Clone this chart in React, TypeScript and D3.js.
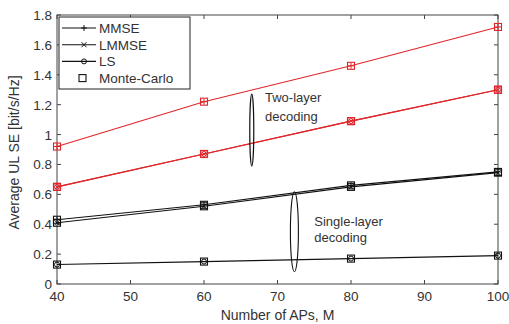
import { useEffect, useRef } from 'react';
import * as d3 from 'd3';

const apCounts = [40, 60, 80, 100];
const xTicks = [40, 50, 60, 70, 80, 90, 100];
const yTicks = [0, 0.2, 0.4, 0.6, 0.8, 1, 1.2, 1.4, 1.6, 1.8];

// two-layer decoding (red)
const twoMMSE = [0.92, 1.22, 1.46, 1.72];
const twoLMMSE = [0.65, 0.87, 1.09, 1.30];
const twoLS = [0.65, 0.87, 1.09, 1.30];
// single-layer decoding (black)
const oneMMSE = [0.43, 0.53, 0.66, 0.75];
const oneLMMSE = [0.41, 0.52, 0.65, 0.745];
const oneLS = [0.13, 0.15, 0.17, 0.19];

const legendItems = ['MMSE', 'LMMSE', 'LS', 'Monte-Carlo'];

type Mark = 'plus' | 'cross' | 'circle';

export default function App() {
  const svgRef = useRef<SVGSVGElement>(null);

  useEffect(() => {
    const svg = d3.select(svgRef.current);
    svg.selectAll('*').remove();

    const W = 509, H = 324;
    const margin = { top: 15, right: 11, bottom: 40, left: 57 };
    const width = W - margin.left - margin.right;
    const height = H - margin.top - margin.bottom;
    const font = '"Liberation Sans", Arial, sans-serif';
    const axisCol = '#444';
    const textCol = '#333';
    const red = '#e0262b';

    const g = svg.append('g').attr('transform', `translate(${margin.left},${margin.top})`);

    const x = d3.scaleLinear().domain([40, 100]).range([0, width]);
    const y = d3.scaleLinear().domain([0, 1.8]).range([height, 0]);

    // ── box + inward ticks ─────────────────────────────
    g.append('rect').attr('width', width).attr('height', height)
      .attr('fill', 'none').attr('stroke', axisCol).attr('stroke-width', 1);

    xTicks.forEach(t => {
      g.append('line').attr('x1', x(t)).attr('x2', x(t)).attr('y1', height).attr('y2', height - 4)
        .attr('stroke', axisCol);
      g.append('line').attr('x1', x(t)).attr('x2', x(t)).attr('y1', 0).attr('y2', 4)
        .attr('stroke', axisCol);
      g.append('text').attr('x', x(t)).attr('y', height + 17).attr('text-anchor', 'middle')
        .attr('font-family', font).attr('font-size', 13.5).attr('fill', textCol).text(String(t));
    });
    yTicks.forEach(t => {
      g.append('line').attr('x1', 0).attr('x2', 4).attr('y1', y(t)).attr('y2', y(t)).attr('stroke', axisCol);
      g.append('line').attr('x1', width).attr('x2', width - 4).attr('y1', y(t)).attr('y2', y(t)).attr('stroke', axisCol);
      g.append('text').attr('x', -5).attr('y', y(t) + 5).attr('text-anchor', 'end')
        .attr('font-family', font).attr('font-size', 13.5).attr('fill', textCol).text(d3.format('~g')(t));
    });

    // axis labels
    svg.append('text').attr('x', margin.left + width / 2).attr('y', 320).attr('text-anchor', 'middle')
      .attr('font-family', font).attr('font-size', 14).attr('fill', textCol).text('Number of APs, M');
    svg.append('text').attr('transform', `translate(19,${margin.top + height / 2 + 3}) rotate(-90)`)
      .attr('text-anchor', 'middle').attr('font-family', font).attr('font-size', 14).attr('fill', textCol)
      .text('Average UL SE [bit/s/Hz]');

    // ── markers ─────────────────────────────────────────
    const drawMark = (p: d3.Selection<SVGGElement, unknown, null, undefined>, cx: number, cy: number, m: Mark, col: string) => {
      if (m === 'plus') {
        p.append('path').attr('d', `M${cx - 3},${cy}H${cx + 3}M${cx},${cy - 3}V${cy + 3}`).attr('stroke', col).attr('stroke-width', 1);
      } else if (m === 'cross') {
        p.append('path').attr('d', `M${cx - 2.5},${cy - 2.5}L${cx + 2.5},${cy + 2.5}M${cx - 2.5},${cy + 2.5}L${cx + 2.5},${cy - 2.5}`)
          .attr('stroke', col).attr('stroke-width', 1);
      } else {
        p.append('circle').attr('cx', cx).attr('cy', cy).attr('r', 2.5).attr('fill', 'none').attr('stroke', col);
      }
    };

    const line = d3.line<number>().x((_, i) => x(apCounts[i])).y(d => y(d));

    const series: { vals: number[]; col: string; mark: Mark }[] = [
      { vals: oneLS, col: '#111', mark: 'circle' },
      { vals: oneLMMSE, col: '#111', mark: 'cross' },
      { vals: oneMMSE, col: '#111', mark: 'plus' },
      { vals: twoLS, col: red, mark: 'circle' },
      { vals: twoLMMSE, col: red, mark: 'cross' },
      { vals: twoMMSE, col: red, mark: 'plus' },
    ];

    series.forEach(s => {
      g.append('path').datum(s.vals).attr('d', line).attr('fill', 'none')
        .attr('stroke', s.col).attr('stroke-width', 1.1);
      s.vals.forEach((v, i) => {
        const cx = x(apCounts[i]), cy = y(v);
        drawMark(g, cx, cy, s.mark, s.col);
        g.append('rect').attr('x', cx - 3.5).attr('y', cy - 3.5).attr('width', 7).attr('height', 7)
          .attr('fill', 'none').attr('stroke', s.col).attr('stroke-width', 1.1);
      });
    });

    // ── annotations ─────────────────────────────────────
    g.append('ellipse').attr('cx', x(66.5)).attr('cy', y(1.03)).attr('rx', 2).attr('ry', 36)
      .attr('fill', 'none').attr('stroke', '#111').attr('stroke-width', 1.2);
    g.append('text').attr('x', x(68.3)).attr('y', y(1.22)).attr('font-family', font).attr('font-size', 13)
      .attr('fill', textCol).text('Two-layer');
    g.append('text').attr('x', x(68.3)).attr('y', y(1.09)).attr('font-family', font).attr('font-size', 13)
      .attr('fill', textCol).text('decoding');

    g.append('ellipse').attr('cx', x(72.3)).attr('cy', y(0.35)).attr('rx', 4).attr('ry', 40)
      .attr('fill', 'none').attr('stroke', '#111').attr('stroke-width', 1.1);
    g.append('text').attr('x', x(75)).attr('y', y(0.39)).attr('font-family', font).attr('font-size', 13)
      .attr('fill', textCol).text('Single-layer');
    g.append('text').attr('x', x(75)).attr('y', y(0.28)).attr('font-family', font).attr('font-size', 13)
      .attr('fill', textCol).text('decoding');

    // ── legend ──────────────────────────────────────────
    const leg = svg.append('g').attr('transform', `translate(${margin.left + 2},${margin.top + 2})`);
    leg.append('rect').attr('width', 131).attr('height', 72).attr('fill', '#fff')
      .attr('stroke', '#222').attr('stroke-width', 1);
    const marks: Mark[] = ['plus', 'cross', 'circle'];
    legendItems.forEach((name, i) => {
      const cy = 11 + i * 16.7;
      if (i < 3) {
        leg.append('line').attr('x1', 3).attr('x2', 37).attr('y1', cy).attr('y2', cy)
          .attr('stroke', '#111').attr('stroke-width', 1.1);
        drawMark(leg, 25, cy, marks[i], '#111');
      } else {
        leg.append('rect').attr('x', 20).attr('y', cy - 3.5).attr('width', 7).attr('height', 7)
          .attr('fill', 'none').attr('stroke', '#111').attr('stroke-width', 1.1);
      }
      leg.append('text').attr('x', 40).attr('y', cy + 5).attr('font-family', font).attr('font-size', 13.5)
        .attr('fill', textCol).text(name);
    });
  }, []);

  return (
    <svg ref={svgRef} width={509} height={324}
      style={{ position: 'absolute', left: 0, top: 0, background: '#fff', display: 'block' }} />
  );
}
